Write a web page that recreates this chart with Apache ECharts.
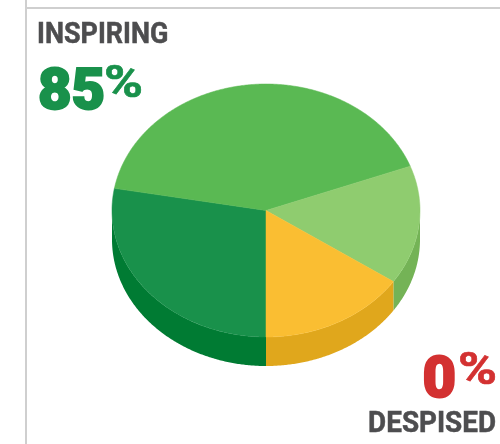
<!DOCTYPE html>
<html style="height: 100%">
<head>
    <meta charset="utf-8">
</head>
<body style="height: 100%; margin: 0; background: #fff">
<div id="container" style="width: 500px; height: 444px"></div>
<script type="text/javascript" src="https://cdn.jsdelivr.net/npm/echarts@6/dist/echarts.min.js"></script>
<script type="text/javascript">
    var names = ['Loved', 'Inspiring', 'Liked', 'Neutral'];
    var shares = [27.8, 41.5, 15.2, 15.5];
    var topColors = ['#19914b', '#5ab953', '#8fcc6f', '#fabe32'];
    var sideColors = ['#007b33', '#007b33', '#74b356', '#e0a71c'];

    var cx = 266, cy = 210.5, rx = 154, ry = 126.5, depth = 29;
    var firstAngle = 180;

    var total = shares.reduce(function (a, b) { return a + b; }, 0);
    var rows = [];
    var from = firstAngle;
    shares.forEach(function (v, i) {
        var sweep = v / total * 360;
        rows.push({ name: names[i], value: [from, from + sweep, v] });
        from += sweep;
    });

    // clockwise from the top of the ellipse
    function rim(deg, drop) {
        var t = deg * Math.PI / 180;
        return [cx + rx * Math.sin(t), cy - ry * Math.cos(t) + (drop || 0)];
    }

    function arc(a, b, drop) {
        var pts = [];
        var n = Math.max(2, Math.ceil((b - a) * 2));
        for (var i = 0; i <= n; i++) {
            pts.push(rim(a + (b - a) * i / n, drop));
        }
        return pts;
    }

    function drawTop(params, api) {
        var pts = [[cx, cy]].concat(arc(api.value(0), api.value(1)));
        var c = topColors[params.dataIndex];
        return { type: 'polygon', shape: { points: pts }, style: { fill: c, stroke: c, lineWidth: 0.5 } };
    }

    // the wall only shows on the front half of the rim
    function drawSide(params, api) {
        var groups = [];
        [[90, 270], [450, 630]].forEach(function (f) {
            var a = Math.max(api.value(0), f[0]);
            var b = Math.min(api.value(1), f[1]);
            if (b <= a) return;
            var pts = arc(a, b).concat(arc(a, b, depth).reverse());
            groups.push({ type: 'polygon', shape: { points: pts }, style: { fill: sideColors[params.dataIndex] } });
        });
        return { type: 'group', children: groups };
    }

    function label(x, y, text, size, color, align, weight, stroke, sx) {
        return {
            type: 'text', x: x, y: y, scaleX: sx || 1, silent: true,
            style: {
                text: text, fontFamily: 'Roboto', fontSize: size, fontWeight: weight || 'bold',
                fill: color, align: align || 'left', verticalAlign: 'middle',
                stroke: stroke ? color : null, lineWidth: stroke || 0
            }
        };
    }

    var myChart = echarts.init(document.getElementById('container'));
    var option = {
        animation: false,
        graphic: [
            { type: 'line', shape: { x1: 26, y1: 0, x2: 26, y2: 444 }, style: { stroke: '#cfcfcf', lineWidth: 2 } },
            { type: 'line', shape: { x1: 26, y1: 8, x2: 500, y2: 8 }, style: { stroke: '#cfcfcf', lineWidth: 2 } },
            label(37, 36, 'INSPIRING', 29, '#4d4d4f', 'left', 'bold', 0.5, 0.93),
            label(38, 94, '85', 58, '#19914b', 'left', 900, 2),
            label(104, 86, '%', 44, '#19914b', 'left', 'bold', 0.6, 1.2),
            label(456, 382, '0', 58, '#d33131', 'right', 900, 2),
            label(458, 373, '%', 44, '#d33131', 'left', 'bold', 0.6, 1.2),
            label(496, 425, 'DESPISED', 29, '#4d4d4f', 'right', 'bold', 0.5, 0.96)
        ],
        series: [
            { type: 'custom', coordinateSystem: 'none', silent: true, z: 1, data: rows, renderItem: drawSide },
            { type: 'custom', coordinateSystem: 'none', silent: true, z: 2, data: rows, renderItem: drawTop }
        ]
    };
    myChart.setOption(option);
</script>
</body>
</html>
